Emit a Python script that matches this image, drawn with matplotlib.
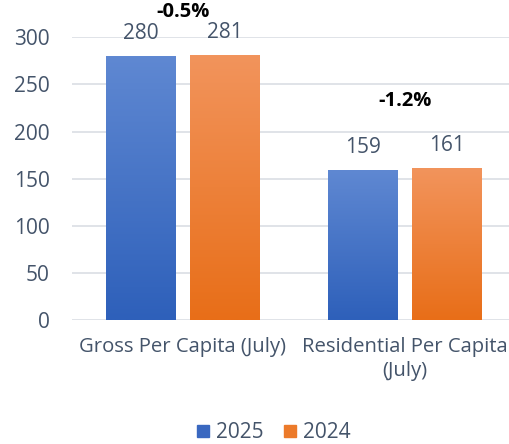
"""Per capita comparison, July 2025 vs 2024 (grouped bars with gradient fill)."""

import numpy as np
import matplotlib
matplotlib.use("Agg")
import matplotlib.pyplot as plt
from matplotlib.colors import LinearSegmentedColormap
from matplotlib.patches import Patch

plt.rcParams["font.family"] = ["Open Sans", "DejaVu Sans"]

categories = ["Gross Per Capita (July)", "Residential Per Capita\n(July)"]
values_2025 = [280, 159]
values_2024 = [281, 161]
changes = ["-0.5%", "-1.2%"]
change_y = [327, 232]
series_names = ["2025", "2024"]

TEXT = "#44546A"
GRID = "#DDE1E6"
# (top, bottom) gradient colours
GRAD = {"2025": ("#5F88D2", "#2E60BA"), "2024": ("#F2945C", "#E86E18")}
SOLID = {"2025": "#3A68C0", "2024": "#EC7A2A"}
FS = 15

fig = plt.figure(figsize=(5.10, 4.44), dpi=100)
ax = fig.add_axes([0.141, 0.279, 0.871, 0.637])

x = np.arange(len(categories))
w = 0.315
off = 0.19

grad = np.linspace(1, 0, 256).reshape(-1, 1)
for vals, name, sgn in [(values_2025, "2025", -1), (values_2024, "2024", 1)]:
    bars = ax.bar(x + sgn * off, vals, width=w, color="none", zorder=2)
    cmap = LinearSegmentedColormap.from_list(name, [GRAD[name][1], GRAD[name][0]])
    for b, v in zip(bars, vals):
        x0 = b.get_x()
        im = ax.imshow(grad, cmap=cmap, aspect="auto", origin="upper",
                       extent=(x0, x0 + b.get_width(), 0, v), zorder=2)
        im.set_clip_path(b)
        ax.text(b.get_x() + b.get_width() / 2, v + 13, str(v), ha="center",
                va="bottom", fontsize=FS, color=TEXT)

for xi, txt, yy in zip(x, changes, change_y):
    ax.text(xi, yy, txt, ha="center", va="center", fontsize=14.5,
            fontweight="bold", color="black", clip_on=False)

ax.set_xlim(-0.5, 1.5)
ax.set_ylim(0, 300)
ax.set_yticks(range(0, 301, 50))
ax.set_xticks(x)
ax.set_xticklabels(categories, linespacing=1.3)
ax.tick_params(axis="both", length=0, labelsize=FS, colors=TEXT)
ax.tick_params(axis="x", pad=12, labelsize=14.6)
ax.tick_params(axis="y", pad=16)
ax.grid(axis="y", color=GRID, lw=1.3, zorder=0)
ax.set_axisbelow(True)
for s in ax.spines.values():
    s.set_visible(False)

handles = [Patch(color=SOLID[n], label=n) for n in series_names]
fig.legend(handles=handles, loc="center", bbox_to_anchor=(0.537, 0.025),
           ncol=2, frameon=False, fontsize=FS, labelcolor=TEXT,
           handlelength=0.55, handleheight=0.55, handletextpad=0.35,
           columnspacing=1.0)

fig.savefig("out.png", dpi=100)
